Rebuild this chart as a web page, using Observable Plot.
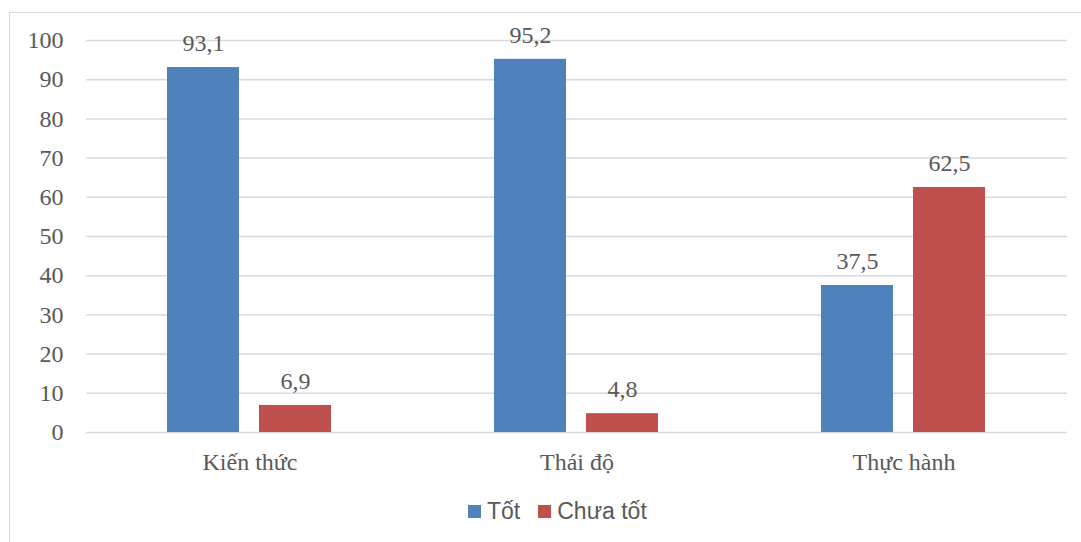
<!DOCTYPE html>
<html>
<head>
<meta charset="utf-8">
<script src="https://cdn.jsdelivr.net/npm/d3@7"></script>
<script src="https://cdn.jsdelivr.net/npm/@observablehq/plot@0.6"></script>
<style>
  html, body { margin: 0; padding: 0; background: #fff; overflow: hidden; }
  body { position: relative; width: 1081px; height: 542px; }
  #frame { position: absolute; left: 9px; top: 12px; width: 2000px; height: 2000px; border: 1.5px solid #d9d9d9; box-sizing: border-box; }
  #chart { position: absolute; left: 0; top: 0; }
  #legend { position: absolute; left: 0; top: 498px; width: 1081px; display: flex; align-items: center; font-family: "Liberation Sans", Arial, sans-serif; font-size: 23px; color: #595959; }
  .sw { display: inline-block; width: 13px; height: 13px; margin-right: 6px; }
  .item { display: flex; align-items: center; margin-right: 18px; }
</style>
</head>
<body>
<div id="frame"></div>
<div id="chart"></div>
<div id="legend"></div>
<script>
const categories = ["Kiến thức", "Thái độ", "Thực hành"];
const seriesNames = ["Tốt", "Chưa tốt"];
const tot = [93.1, 95.2, 37.5];
const chuaTot = [6.9, 4.8, 62.5];
const yTicks = [0, 10, 20, 30, 40, 50, 60, 70, 80, 90, 100];
const colors = ["#4F81BD", "#C0504D"];

const data = [];
categories.forEach((c, i) => {
  data.push({cat: c, series: seriesNames[0], value: tot[i]});
  data.push({cat: c, series: seriesNames[1], value: chuaTot[i]});
});
const fmt = v => v.toFixed(1).replace(".", ",");
const serif = "Liberation Serif";

const chart = Plot.plot({
  width: 1081,
  height: 480,
  marginLeft: 85,
  marginRight: 14,
  marginTop: 40,
  marginBottom: 48,
  style: {fontFamily: serif, fontSize: "24px", color: "#595959", background: "transparent"},
  fx: {domain: categories, padding: 0, label: null},
  x: {domain: seriesNames, paddingInner: 0.215, paddingOuter: 0.866, axis: null},
  y: {domain: [0, 100], label: null},
  color: {domain: seriesNames, range: colors},
  marks: [
    Plot.gridY(yTicks, {stroke: "#d9d9d9", strokeOpacity: 1, strokeWidth: 1.5}),
    Plot.axisY(yTicks, {tickSize: 0, tickPadding: 23, label: null, fill: "#595959", fontFamily: serif, fontSize: 24}),
    Plot.axisFx({anchor: "bottom", tickSize: 0, tickPadding: 20, label: null, fill: "#595959", fontFamily: serif, fontSize: 24}),
    Plot.barY(data, {fx: "cat", x: "series", y: "value", fill: "series"}),
    Plot.text(data, {fx: "cat", x: "series", y: "value", text: d => fmt(d.value), dy: -24, fill: "#595959", fontFamily: serif, fontSize: 24})
  ]
});
document.getElementById("chart").appendChild(chart);

const legend = document.getElementById("legend");
legend.style.paddingLeft = "468px";
legend.style.boxSizing = "border-box";
seriesNames.forEach((s, i) => {
  const it = document.createElement("div");
  it.className = "item";
  const sw = document.createElement("span");
  sw.className = "sw";
  sw.style.background = colors[i];
  it.appendChild(sw);
  const t = document.createElement("span");
  t.textContent = s;
  it.appendChild(t);
  legend.appendChild(it);
});
</script>
</body>
</html>
